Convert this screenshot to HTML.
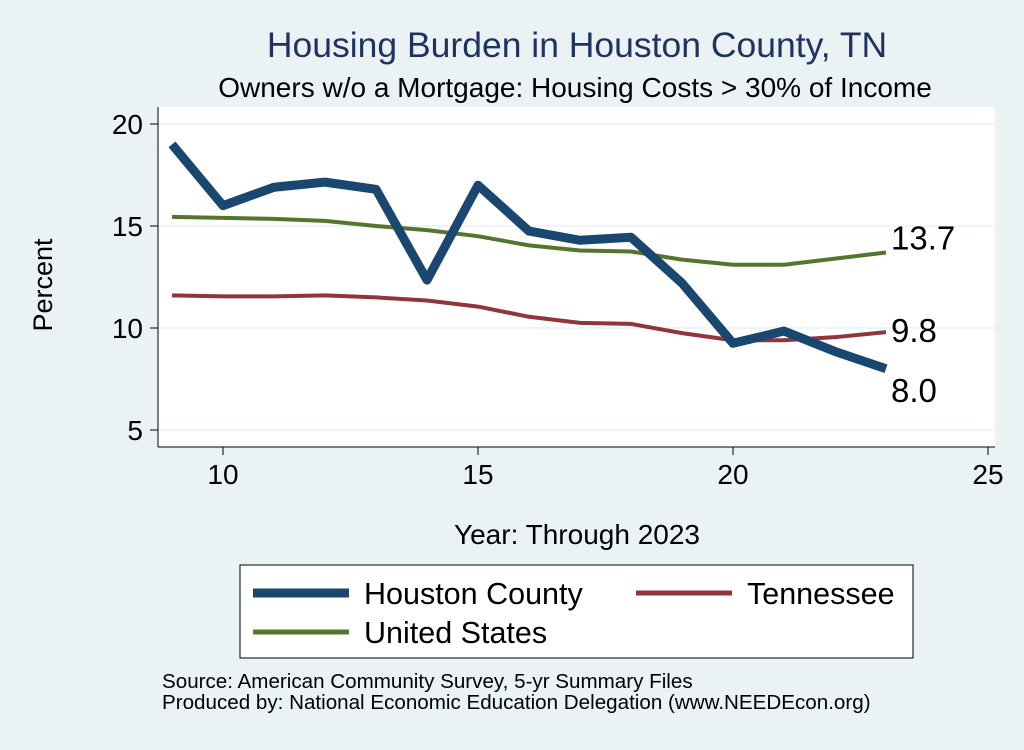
<!DOCTYPE html>
<html><head><meta charset="utf-8"><style>
body{margin:0;background:#eaf2f3;font-family:"Liberation Sans",Arial,sans-serif}
</style></head><body>
<svg width="1024" height="745" xmlns="http://www.w3.org/2000/svg">
<rect x="0" y="0" width="1024" height="745" fill="#eaf2f3"/>
<text x="577" y="57" font-size="35.5" fill="#1e3360" text-anchor="middle">Housing Burden in Houston County, TN</text>
<text x="575" y="97" font-size="28" fill="#000" text-anchor="middle">Owners w/o a Mortgage: Housing Costs &gt; 30% of Income</text>
<rect x="158" y="107" width="837" height="340" fill="#fff"/>
<g id="grid"></g>
<g id="axes"></g>
<g id="series"></g>
<text transform="translate(52,285) rotate(-90)" font-size="27" text-anchor="middle">Percent</text>
<text x="577" y="544" font-size="28" text-anchor="middle">Year: Through 2023</text>
<g>
<rect x="240" y="565" width="673" height="93" fill="#fff" stroke="#000" stroke-width="1"/>
<line x1="253" y1="593" x2="349" y2="593" stroke="#1a476f" stroke-width="9"/>
<text x="364" y="604" font-size="30.5">Houston County</text>
<line x1="636" y1="593" x2="732" y2="593" stroke="#90353b" stroke-width="5"/>
<text x="747" y="604" font-size="30.5">Tennessee</text>
<line x1="253" y1="632" x2="349" y2="632" stroke="#55752f" stroke-width="5"/>
<text x="364" y="643" font-size="30.5">United States</text>
</g>
<text x="162" y="688" font-size="20.6">Source: American Community Survey, 5-yr Summary Files</text>
<text x="162" y="709" font-size="20.6">Produced by: National Economic Education Delegation (www.NEEDEcon.org)</text>
</svg>
<script>
const years=[9,10,11,12,13,14,15,16,17,18,19,20,21,22,23];
const houston=[19.0,16.0,16.9,17.15,16.8,12.35,17.0,14.75,14.3,14.45,12.2,9.25,9.85,8.85,8.0];
const tennessee=[11.6,11.55,11.55,11.6,11.5,11.35,11.05,10.55,10.25,10.2,9.75,9.4,9.4,9.55,9.8];
const unitedStates=[15.45,15.4,15.35,15.25,15.0,14.8,14.5,14.05,13.8,13.75,13.35,13.1,13.1,13.4,13.7];
const xTicks=[10,15,20,25];
const yTicks=[5,10,15,20];
const NS="http://www.w3.org/2000/svg";
const xs=v=>223+(v-10)*51;
const ys=v=>430-(v-5)*20.4;
function mk(tag,attrs,parent){const e=document.createElementNS(NS,tag);for(const k in attrs)e.setAttribute(k,attrs[k]);document.getElementById(parent).appendChild(e);return e;}
yTicks.forEach(t=>{
 const g=mk('line',{x1:158,x2:995,y1:ys(t),y2:ys(t),stroke:'#eaf2f3','stroke-width':1.5},'grid');
 
 
 const tk=mk('line',{x1:150,x2:158,y1:ys(t),y2:ys(t),stroke:'#000'},'axes');
 
 
 const lb=mk('text',{x:143,y:ys(t)+10,'font-size':28,'text-anchor':'end'},'axes');lb.textContent=t;
 
 
});
xTicks.forEach(t=>{
 const tk=mk('line',{x1:xs(t),x2:xs(t),y1:447,y2:455,stroke:'#000'},'axes');
 
 
 const lb=mk('text',{x:xs(t),y:484,'font-size':28,'text-anchor':'middle'},'axes');lb.textContent=t;
 
 
});
const ya=mk('line',{x1:158,x2:158,y1:107,y2:447,stroke:'#000'},'axes');


const xa=mk('line',{x1:158,x2:995,y1:447,y2:447,stroke:'#000'},'axes');


function line(vals,color,w,name){
 const p=mk('polyline',{points:vals.map((v,i)=>xs(years[i])+','+ys(v)).join(' '),fill:'none',stroke:color,'stroke-width':w,'stroke-linejoin':'round'},'series');
 
 
}
line(unitedStates,'#55752f',4,'us-line');
line(tennessee,'#90353b',4,'tennessee-line');
line(houston,'#1a476f',9,'houston-line');
const last=years.length-1;
[[unitedStates,'us-end-label',-3],[tennessee,'tennessee-end-label',10],[houston,'houston-end-label',33]].forEach(([a,n,dy])=>{
 const t=mk('text',{x:xs(years[last])+5,y:ys(a[last])+dy,'font-size':33},'series');
 t.textContent=a[last].toFixed(1);
 
 
});
</script>
</body></html>
